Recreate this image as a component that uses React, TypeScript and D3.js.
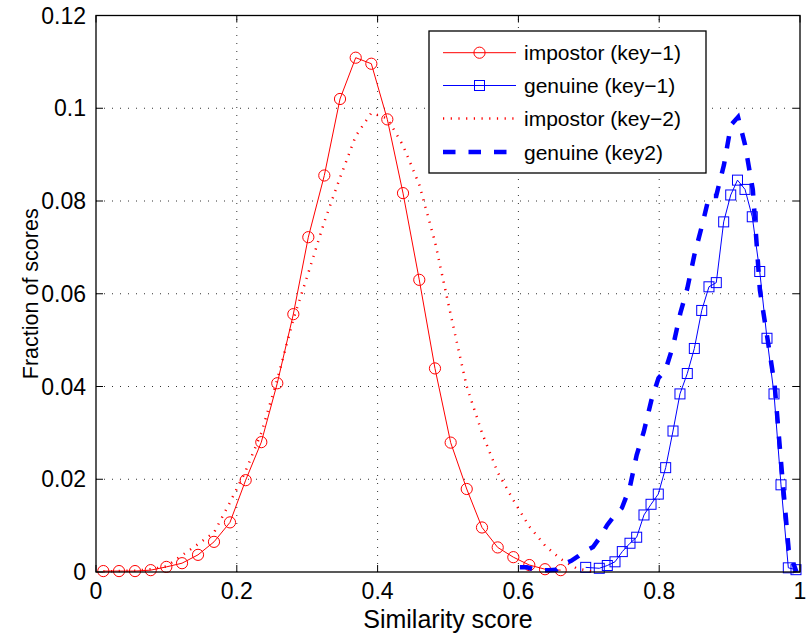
import React from 'react';
import * as d3 from 'd3';

// Bin centres and fractions for each score distribution
const impostorKey1X = [0.0104, 0.0327, 0.0554, 0.0777, 0.0999, 0.1222, 0.1449, 0.1676, 0.1903, 0.2126, 0.2348, 0.2575, 0.2803, 0.3016, 0.3243, 0.3466, 0.3689, 0.3911, 0.4138, 0.4361, 0.4592, 0.4815, 0.5038, 0.5266, 0.5483, 0.5706, 0.5928, 0.6155, 0.6378, 0.6601];
const impostorKey1Y = [0.0002, 0.0002, 0.0002, 0.0004, 0.0011, 0.0019, 0.0037, 0.0065, 0.0107, 0.0198, 0.0280, 0.0407, 0.0556, 0.0722, 0.0855, 0.1020, 0.1109, 0.1096, 0.0976, 0.0817, 0.0630, 0.0439, 0.0279, 0.0179, 0.0096, 0.0053, 0.0032, 0.0015, 0.0006, 0.0004];

const genuineKey1X = [0.6956, 0.7149, 0.7263, 0.7372, 0.7476, 0.7585, 0.7680, 0.7784, 0.7884, 0.7987, 0.8092, 0.8196, 0.8295, 0.8399, 0.8499, 0.8604, 0.8707, 0.8811, 0.8916, 0.9016, 0.9112, 0.9219, 0.9322, 0.9428, 0.9531, 0.9631, 0.9730, 0.9834, 0.9943];
const genuineKey1Y = [0.0010, 0.0008, 0.0014, 0.0022, 0.0044, 0.0062, 0.0075, 0.0123, 0.0146, 0.0168, 0.0225, 0.0304, 0.0384, 0.0428, 0.0482, 0.0564, 0.0615, 0.0624, 0.0755, 0.0813, 0.0845, 0.0825, 0.0766, 0.0648, 0.0504, 0.0384, 0.0188, 0.0009, 0.0005];

const impostorKey2X = [0.0104, 0.0327, 0.0554, 0.0777, 0.0999, 0.1222, 0.1449, 0.1676, 0.1903, 0.2126, 0.2348, 0.2575, 0.2803, 0.3016, 0.3243, 0.3466, 0.3689, 0.3911, 0.4138, 0.4361, 0.4592, 0.4815, 0.5038, 0.5266, 0.5483, 0.5706, 0.5928, 0.6155, 0.6378, 0.6601, 0.6824, 0.7047];
const impostorKey2Y = [0.0001, 0.0002, 0.0003, 0.0006, 0.0012, 0.0036, 0.0060, 0.0085, 0.0150, 0.0218, 0.0300, 0.0415, 0.0545, 0.0645, 0.0755, 0.0850, 0.0940, 0.0990, 0.0978, 0.0920, 0.0835, 0.0712, 0.0555, 0.0400, 0.0300, 0.0215, 0.0155, 0.0098, 0.0057, 0.0028, 0.0008, 0.0001];

const genuineKey2X = [0.602, 0.612, 0.622, 0.633, 0.643, 0.654, 0.664, 0.675, 0.685, 0.695, 0.706, 0.716, 0.726, 0.737, 0.747, 0.758, 0.768, 0.778, 0.789, 0.799, 0.809, 0.820, 0.830, 0.840, 0.850, 0.861, 0.871, 0.881, 0.892, 0.902, 0.912, 0.922, 0.933, 0.943, 0.953, 0.964, 0.974, 0.984, 0.995];
const genuineKey2Y = [0.0010, 0.0010, 0.0006, 0.0004, 0.0004, 0.0005, 0.0017, 0.0024, 0.0034, 0.0045, 0.0054, 0.0075, 0.0101, 0.0123, 0.0138, 0.0181, 0.0252, 0.0302, 0.0371, 0.0418, 0.0436, 0.0489, 0.0558, 0.0612, 0.0684, 0.0748, 0.0811, 0.0811, 0.0878, 0.0964, 0.0981, 0.0921, 0.0824, 0.0608, 0.0511, 0.0403, 0.0220, 0.0047, 0.0000];

const xTicks = [0, 0.2, 0.4, 0.6, 0.8, 1];
const yTicks = [0, 0.02, 0.04, 0.06, 0.08, 0.1, 0.12];
const xTickLabels = ['0', '0.2', '0.4', '0.6', '0.8', '1'];
const yTickLabels = ['0', '0.02', '0.04', '0.06', '0.08', '0.1', '0.12'];

const seriesNames = ['impostor (key\u22121)', 'genuine (key\u22121)', 'impostor (key\u22122)', 'genuine (key2)'];

const W = 806;
const H = 637;
const FONT = '"Liberation Sans", Arial, Helvetica, sans-serif';

const RED = '#ff0000';
const BLUE = '#0000ff';

export default function App() {
  const x = d3.scaleLinear().domain([0, 1]).range([96, 800]);
  const y = d3.scaleLinear().domain([0, 0.12]).range([572, 15.5]);

  const line = d3
    .line<[number, number]>()
    .x((d) => x(d[0]))
    .y((d) => y(d[1]));

  const zip = (xs: number[], ys: number[]): [number, number][] => xs.map((v, i) => [v, ys[i]]);
  const imp1 = zip(impostorKey1X, impostorKey1Y);
  const gen1 = zip(genuineKey1X, genuineKey1Y);
  const imp2 = zip(impostorKey2X, impostorKey2Y);
  const gen2 = zip(genuineKey2X, genuineKey2Y);

  const [x0, x1] = x.range();
  const [y0, y1] = y.range();
  const tickLen = 7;

  const legend = { x: 429, y: 31, w: 277, h: 142 };
  const rowY = [52.7, 85.5, 118.5, 152];
  const sampleX0 = 443;
  const sampleX1 = 516;
  const sampleMid = (sampleX0 + sampleX1) / 2;
  const yMid = (y0 + y1) / 2;

  return (
    <svg
      width={W}
      height={H}
      viewBox={`0 0 ${W} ${H}`}
      style={{ position: 'absolute', left: 0, top: 0, background: '#fff' }}
      fontFamily={FONT}
    >
      <rect x={0} y={0} width={W} height={H} fill="#fff" />

      {/* dotted grid */}
      <g stroke="#333" strokeWidth={1} strokeDasharray="1 7">
        {xTicks.slice(1, -1).map((t) => (
          <line key={`gx${t}`} x1={x(t)} x2={x(t)} y1={y0} y2={y1} />
        ))}
        {yTicks.slice(1, -1).map((t) => (
          <line key={`gy${t}`} x1={x0} x2={x1} y1={y(t)} y2={y(t)} />
        ))}
      </g>

      {/* series */}
      <path d={line(imp1) || ''} fill="none" stroke={RED} strokeWidth={1} />
      {imp1.map((d, i) => (
        <circle key={`c${i}`} cx={x(d[0])} cy={y(d[1])} r={5.6} fill="none" stroke={RED} strokeWidth={1} />
      ))}
      <path d={line(gen1) || ''} fill="none" stroke={BLUE} strokeWidth={1} />
      {gen1.map((d, i) => (
        <rect key={`s${i}`} x={x(d[0]) - 5} y={y(d[1]) - 5} width={10} height={10} fill="none" stroke={BLUE} strokeWidth={1} />
      ))}
      <path d={line(imp2) || ''} fill="none" stroke={RED} strokeWidth={2.5} strokeDasharray="1.2 6.5" />
      <path d={line(gen2) || ''} fill="none" stroke={BLUE} strokeWidth={4.5} strokeDasharray="12.5 13" />

      {/* axes box and ticks */}
      <rect x={x0} y={y1} width={x1 - x0} height={y0 - y1} fill="none" stroke="#000" strokeWidth={1.3} />
      <g stroke="#000" strokeWidth={1}>
        {xTicks.map((t) => (
          <g key={`tx${t}`}>
            <line x1={x(t)} x2={x(t)} y1={y0} y2={y0 - tickLen} />
            <line x1={x(t)} x2={x(t)} y1={y1} y2={y1 + tickLen} />
          </g>
        ))}
        {yTicks.map((t) => (
          <g key={`ty${t}`}>
            <line x1={x0} x2={x0 + tickLen} y1={y(t)} y2={y(t)} />
            <line x1={x1} x2={x1 - tickLen} y1={y(t)} y2={y(t)} />
          </g>
        ))}
      </g>

      {/* tick labels */}
      <g fontSize={23} fill="#000">
        {xTicks.map((t, i) => (
          <text key={`lx${t}`} x={x(t)} y={599} textAnchor="middle">
            {xTickLabels[i]}
          </text>
        ))}
        {yTicks.map((t, i) => (
          <text key={`ly${t}`} x={86} y={y(t) + 8} textAnchor="end">
            {yTickLabels[i]}
          </text>
        ))}
      </g>

      {/* axis titles */}
      <text x={(x0 + x1) / 2} y={628} textAnchor="middle" fontSize={25} fill="#000">
        Similarity score
      </text>
      <text
        x={38}
        y={yMid}
        textAnchor="middle"
        fontSize={21.5}
        fill="#000"
        transform={`rotate(-90, 38, ${yMid})`}
      >
        Fraction of scores
      </text>

      {/* legend */}
      <rect x={legend.x} y={legend.y} width={legend.w} height={legend.h} fill="#fff" stroke="#000" strokeWidth={1.3} />
      <line x1={sampleX0} x2={sampleX1} y1={rowY[0]} y2={rowY[0]} stroke={RED} strokeWidth={1} />
      <circle cx={sampleMid} cy={rowY[0]} r={5.6} fill="none" stroke={RED} strokeWidth={1} />
      <line x1={sampleX0} x2={sampleX1} y1={rowY[1]} y2={rowY[1]} stroke={BLUE} strokeWidth={1} />
      <rect x={sampleMid - 5} y={rowY[1] - 5} width={10} height={10} fill="none" stroke={BLUE} strokeWidth={1} />
      <line x1={sampleX0} x2={sampleX1} y1={rowY[2]} y2={rowY[2]} stroke={RED} strokeWidth={2.5} strokeDasharray="1.2 6.5" />
      <line x1={sampleX0} x2={sampleX1} y1={rowY[3]} y2={rowY[3]} stroke={BLUE} strokeWidth={4.5} strokeDasharray="12.5 13" />
      <g fontSize={21} fill="#000">
        {seriesNames.map((s, i) => (
          <text key={s} x={524} y={rowY[i] + 7.5}>
            {s}
          </text>
        ))}
      </g>
    </svg>
  );
}
